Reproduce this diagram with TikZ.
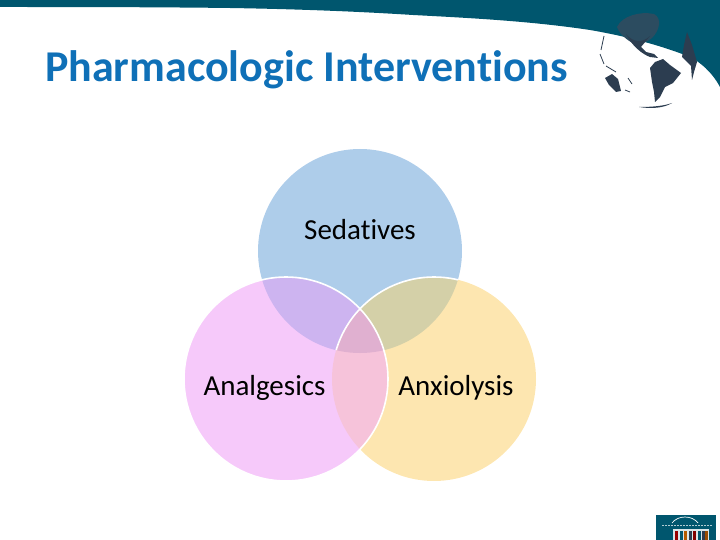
\documentclass[tikz,border=0pt]{standalone}
\usepackage{fontspec}
\setmainfont[RawFeature=-liga]{Carlito}
\usetikzlibrary{positioning}

\definecolor{bandteal}{HTML}{00566E}
\definecolor{titleblue}{HTML}{0F70B7}
\definecolor{landgray}{HTML}{2C3D50}
\definecolor{landveil}{HTML}{2C4C60}
\definecolor{sedblue}{HTML}{AECDEA}
\definecolor{analpink}{HTML}{F6C9FA}
\definecolor{anxyellow}{HTML}{FDE6B0}
\definecolor{sedanal}{HTML}{CDB4F0}
\definecolor{sedanx}{HTML}{D4D0A8}
\definecolor{analanx}{HTML}{F6C3DA}
\definecolor{allthree}{HTML}{E0B0D0}

\begin{document}
\begin{tikzpicture}[x=1pt,y=-1pt,font=\fontsize{29}{34}\selectfont,
  disc/.style={circle,minimum size=204pt,inner sep=0pt,outer sep=0pt},
  lab/.style={text=black,inner sep=0pt,on grid},
  rim/.style={draw=white,line width=1.6pt},
  land/.style={fill=landgray,draw=none}]
\useasboundingbox (0,0) rectangle (720,540);
% header band
\fill[bandteal] (0,0) -- (720,0) -- (720,87) .. controls (712,72) and (700,62) .. (690,57) .. controls (660,45) and (625,36) .. (590,30) .. controls (530,21) and (470,18) .. (413,15) .. controls (350,11) and (290,9) .. (230,8) .. controls (150,7) and (60,7) .. (0,7) -- cycle;
\node[font=\fontsize{44}{50}\selectfont\bfseries,text=titleblue,inner sep=0pt,anchor=base west] (title) at (45,82) {Pharmacologic Interventions};
% globe
\fill[landveil] (617,27) .. controls (622,16) and (640,11) .. (654,14) .. controls (662,18) and (660,30) .. (652,38) .. controls (648,42) and (642,42) .. (640,46) .. controls (632,44) and (620,36) .. (617,27) -- cycle;
\fill[land] (626,34) .. controls (634,44) and (644,42) .. (650,36) -- (641,47) -- (646,52) -- (654,54) -- (658,58) -- (650,57) .. controls (642,54) and (632,46) .. (626,34) -- cycle;
\fill[land] (650,68) -- (655,62) -- (663,59) -- (670,65) -- (681,73) -- (673,83) -- (665,87) -- (660,97) -- (655,102) -- (654,92) -- (652,82) -- cycle;
\fill[land] (687,32) -- (692,45) -- (697,62) -- (694,72) -- (692,80) -- (691,66) -- (688,63) -- (682,57) -- (684,45) -- cycle;
\fill[land] (605,78) -- (612,74) -- (618,79) -- (621,91) -- (616,92) -- (609,85) -- cycle;
\fill[land] (639,107) .. controls (652,107) and (664,106) .. (672,103) .. controls (664,108) and (652,109) .. (639,107) -- cycle;
\draw[landgray,line width=.8pt] (604,36) -- (601,50) (600,54) -- (604,64) (606,66) -- (616,72) (628,78) -- (632,84) (625,90) -- (630,92);
% the three discs
\node[disc,fill=sedblue] (sed) at (360,251) {};
\node[disc,fill=anxyellow,on grid,below right=128pt and 74pt of sed] (anx) {};
\node[disc,fill=analpink,on grid,below left=128pt and 74pt of sed] (anal) {};
% overlaps
\begin{scope}
\clip (sed.center) circle (102);
\fill[sedanal] (anal.center) circle (102);
\fill[sedanx] (anx.center) circle (102);
\end{scope}
\begin{scope}
\clip (anal.center) circle (102);
\fill[analanx] (anx.center) circle (102);
\clip (anx.center) circle (102);
\fill[allthree] (sed.center) circle (102);
\end{scope}
% white rims
\begin{scope}
\clip (sed.center) circle (102);
\draw[rim] (anx.center) circle (102);
\end{scope}
\draw[rim] (anal.center) circle (102);
% labels
\node[lab,above=21pt of sed.center,anchor=center] (sedlab) {Sedatives};
\node[lab,below left=9pt and 21.5pt of anal.center,anchor=center] (anallab) {Analgesics};
\node[lab,below right=9pt and 22pt of anx.center,anchor=center] (anxlab) {Anxiolysis};
% footer logo
\fill[bandteal] (656,515) rectangle (716,540);
\draw[white,line width=.7pt] (672,523) .. controls (678,515) and (692,515) .. (698,523);
\draw[white!70!bandteal,line width=1pt,dash pattern=on 2pt off 1pt] (662,525) -- (712,525);
\fill[white!85!bandteal] (673,529) rectangle (709,540);
\foreach \px/\pc in {675/red!60!black,680/bandteal,684/orange!70!black,689/landgray,693/red!50!black,698/bandteal,702/landgray,705/orange!60!black}
  \fill[\pc] (\px,531) rectangle ++(2.5,9);
\end{tikzpicture}
\end{document}
